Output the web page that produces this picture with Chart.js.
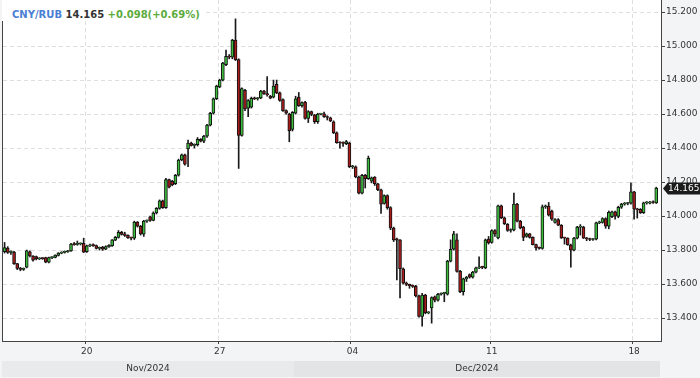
<!DOCTYPE html>
<html>
<head>
<meta charset="utf-8">
<script src="https://cdn.jsdelivr.net/npm/chart.js@4.4.1/dist/chart.umd.min.js"></script>
<style>
  html, body { margin: 0; padding: 0; background: #f3f4f6; }
  #wrap { position: relative; width: 700px; height: 378px; }
  #head {
    position: absolute; left: 2px; top: 0;
    padding: 9px 4px 0 10px; height: 12px; line-height: 12px;
    background: #fff; white-space: nowrap;
    font: bold 10px 'DejaVu Sans', sans-serif;
  }
  #head .sym { color: #4a7fd4; }
  #head .px { color: #333; }
  #head .chg { color: #5cab3c; }
</style>
</head>
<body>
<div id="wrap">
  <canvas id="candles" width="700" height="378"></canvas>
  <div id="head"><span class="sym" id="sym"></span> <span class="px" id="px"></span> <span class="chg" id="chg"></span></div>
</div>
<script>
// 4h candles, CNY/RUB, mid Nov - 19 Dec 2024
var opens = [
  13.790, 13.812, 13.786, 13.788, 13.720, 13.692, 13.686, 13.700, 13.790, 13.765,
  13.762, 13.748, 13.752, 13.755, 13.728, 13.755, 13.757, 13.768, 13.782, 13.786,
  13.790, 13.795, 13.835, 13.833, 13.836, 13.840, 13.790, 13.825, 13.830, 13.826,
  13.810, 13.818, 13.805, 13.820, 13.826, 13.858, 13.875, 13.905, 13.895, 13.886,
  13.872, 13.870, 13.965, 13.940, 13.893, 13.970, 13.995, 13.975, 14.018, 14.045,
  14.090, 14.050, 14.215, 14.205, 14.190, 14.240, 14.330, 14.360, 14.395, 14.430,
  14.416, 14.420, 14.452, 14.440, 14.470, 14.535, 14.605, 14.690, 14.760, 14.800,
  14.890, 14.940, 14.935, 15.035, 14.920, 14.475, 14.740, 14.635, 14.640, 14.692,
  14.690, 14.695, 14.735, 14.720, 14.705, 14.700, 14.775, 14.725, 14.685, 14.620,
  14.600, 14.510, 14.605, 14.700, 14.650, 14.670, 14.575, 14.615, 14.595, 14.555,
  14.600, 14.602, 14.585, 14.578, 14.555, 14.490, 14.432, 14.430, 14.426, 14.430,
  14.290, 14.290, 14.230, 14.135, 14.240, 14.220, 14.205, 14.230, 14.190, 14.155,
  14.075, 14.120, 14.050, 13.930, 13.866, 13.860, 13.690, 13.605, 13.598, 13.590,
  13.586, 13.530, 13.410, 13.535, 13.430, 13.460, 13.525, 13.505, 13.540, 13.545,
  13.540, 13.735, 13.805, 13.860, 13.675, 13.555, 13.630, 13.655, 13.640, 13.670,
  13.695, 13.700, 13.695, 13.865, 13.845, 13.915, 13.872, 14.060, 13.990, 13.952,
  13.915, 13.918, 14.070, 13.970, 13.935, 13.880, 13.895, 13.875, 13.832, 13.812,
  13.810, 14.055, 14.058, 14.030, 13.962, 13.980, 13.946, 13.872, 13.870, 13.830,
  13.800, 13.870, 13.935, 13.935, 13.870, 13.866, 13.862, 13.864, 13.960, 13.962,
  13.985, 13.940, 13.996, 14.025, 13.998, 14.052, 14.070, 14.074, 14.076, 14.142,
  14.040, 14.040, 14.020, 14.078, 14.076, 14.082, 14.078
];
var highs = [
  13.845, 13.820, 13.795, 13.792, 13.722, 13.698, 13.695, 13.800, 13.795, 13.768,
  13.765, 13.755, 13.756, 13.758, 13.758, 13.760, 13.772, 13.785, 13.790, 13.795,
  13.798, 13.840, 13.845, 13.853, 13.842, 13.870, 13.830, 13.835, 13.836, 13.830,
  13.818, 13.822, 13.825, 13.832, 13.862, 13.880, 13.915, 13.910, 13.905, 13.890,
  13.876, 13.970, 13.968, 13.945, 13.975, 13.978, 14.000, 14.025, 14.050, 14.095,
  14.094, 14.222, 14.218, 14.210, 14.245, 14.335, 14.365, 14.365, 14.447, 14.435,
  14.425, 14.462, 14.456, 14.475, 14.540, 14.610, 14.695, 14.770, 14.805, 14.905,
  14.976, 14.950, 15.040, 15.160, 14.925, 14.755, 14.745, 14.685, 14.700, 14.700,
  14.698, 14.740, 14.740, 14.820, 14.710, 14.800, 14.800, 14.730, 14.690, 14.625,
  14.605, 14.615, 14.705, 14.727, 14.672, 14.675, 14.620, 14.618, 14.598, 14.605,
  14.605, 14.612, 14.590, 14.582, 14.560, 14.495, 14.438, 14.436, 14.445, 14.435,
  14.298, 14.295, 14.235, 14.245, 14.245, 14.353, 14.230, 14.232, 14.192, 14.158,
  14.125, 14.125, 14.055, 13.935, 13.870, 13.862, 13.695, 13.612, 13.600, 13.595,
  13.592, 13.535, 13.545, 13.540, 13.438, 13.525, 13.530, 13.545, 13.548, 13.552,
  13.740, 13.860, 13.910, 13.895, 13.680, 13.635, 13.645, 13.660, 13.675, 13.700,
  13.760, 13.705, 13.865, 13.880, 13.920, 13.920, 14.065, 14.065, 13.995, 13.956,
  13.925, 14.135, 14.075, 13.975, 13.940, 13.900, 13.898, 13.878, 13.835, 13.818,
  14.065, 14.065, 14.080, 14.035, 13.985, 13.985, 13.950, 13.876, 13.872, 13.835,
  13.875, 13.940, 13.950, 13.940, 13.875, 13.870, 13.868, 13.965, 13.970, 13.990,
  13.990, 14.030, 14.030, 14.030, 14.058, 14.075, 14.080, 14.080, 14.196, 14.146,
  14.046, 14.044, 14.082, 14.085, 14.086, 14.090, 14.170
];
var lows = [
  13.782, 13.780, 13.775, 13.715, 13.685, 13.678, 13.680, 13.695, 13.760, 13.735,
  13.742, 13.744, 13.745, 13.725, 13.725, 13.750, 13.754, 13.765, 13.778, 13.782,
  13.786, 13.792, 13.828, 13.828, 13.830, 13.785, 13.786, 13.820, 13.822, 13.806,
  13.800, 13.798, 13.802, 13.815, 13.822, 13.855, 13.870, 13.888, 13.880, 13.868,
  13.860, 13.862, 13.935, 13.888, 13.880, 13.962, 13.968, 13.972, 14.012, 14.040,
  14.045, 14.045, 14.165, 14.178, 14.185, 14.235, 14.325, 14.300, 14.290, 14.412,
  14.400, 14.412, 14.436, 14.432, 14.462, 14.530, 14.600, 14.685, 14.755, 14.795,
  14.885, 14.925, 14.925, 14.915, 14.280, 14.470, 14.620, 14.585, 14.635, 14.685,
  14.682, 14.690, 14.715, 14.705, 14.690, 14.695, 14.720, 14.675, 14.615, 14.600,
  14.437, 14.500, 14.600, 14.645, 14.640, 14.570, 14.550, 14.590, 14.545, 14.545,
  14.595, 14.580, 14.565, 14.555, 14.485, 14.428, 14.400, 14.410, 14.420, 14.285,
  14.280, 14.225, 14.130, 14.130, 14.165, 14.215, 14.195, 14.180, 14.150, 14.016,
  14.070, 14.040, 13.920, 13.850, 13.625, 13.518, 13.600, 13.590, 13.575, 13.580,
  13.525, 13.405, 13.352, 13.425, 13.425, 13.370, 13.495, 13.500, 13.535, 13.496,
  13.535, 13.730, 13.800, 13.670, 13.550, 13.535, 13.615, 13.635, 13.635, 13.665,
  13.690, 13.690, 13.690, 13.835, 13.840, 13.880, 13.865, 13.985, 13.950, 13.910,
  13.905, 13.912, 13.965, 13.925, 13.855, 13.875, 13.870, 13.830, 13.800, 13.805,
  13.805, 14.045, 14.000, 13.975, 13.958, 13.943, 13.868, 13.835, 13.828, 13.700,
  13.795, 13.865, 13.888, 13.868, 13.855, 13.855, 13.856, 13.860, 13.955, 13.958,
  13.928, 13.925, 13.990, 13.982, 13.990, 14.045, 14.064, 14.066, 14.070, 13.982,
  13.988, 14.015, 14.015, 14.070, 14.072, 14.074, 14.074
];
var closes = [
  13.815, 13.786, 13.790, 13.720, 13.692, 13.686, 13.690, 13.795, 13.765, 13.740,
  13.748, 13.752, 13.750, 13.728, 13.755, 13.757, 13.770, 13.782, 13.786, 13.792,
  13.794, 13.835, 13.832, 13.836, 13.838, 13.788, 13.825, 13.830, 13.826, 13.810,
  13.814, 13.805, 13.820, 13.828, 13.860, 13.875, 13.905, 13.892, 13.886, 13.872,
  13.870, 13.965, 13.940, 13.895, 13.970, 13.972, 13.975, 14.018, 14.045, 14.090,
  14.050, 14.215, 14.170, 14.183, 14.240, 14.330, 14.360, 14.305, 14.430, 14.416,
  14.420, 14.452, 14.440, 14.470, 14.535, 14.605, 14.690, 14.765, 14.800, 14.900,
  14.940, 14.935, 15.035, 14.920, 14.475, 14.750, 14.630, 14.680, 14.692, 14.690,
  14.693, 14.735, 14.720, 14.712, 14.694, 14.765, 14.725, 14.680, 14.620, 14.605,
  14.502, 14.610, 14.690, 14.650, 14.668, 14.575, 14.615, 14.598, 14.555, 14.600,
  14.602, 14.585, 14.580, 14.560, 14.490, 14.432, 14.430, 14.428, 14.438, 14.290,
  14.292, 14.230, 14.135, 14.240, 14.220, 14.340, 14.225, 14.190, 14.155, 14.070,
  14.120, 14.050, 13.930, 13.860, 13.858, 13.690, 13.605, 13.598, 13.590, 13.586,
  13.530, 13.410, 13.535, 13.430, 13.432, 13.520, 13.505, 13.540, 13.545, 13.550,
  13.735, 13.805, 13.895, 13.675, 13.555, 13.630, 13.640, 13.640, 13.670, 13.695,
  13.700, 13.698, 13.860, 13.842, 13.915, 13.895, 14.060, 13.990, 13.955, 13.915,
  13.920, 14.070, 13.970, 13.930, 13.875, 13.895, 13.875, 13.832, 13.812, 13.810,
  14.055, 14.058, 14.005, 13.982, 13.980, 13.946, 13.872, 13.870, 13.832, 13.800,
  13.870, 13.935, 13.938, 13.870, 13.866, 13.862, 13.864, 13.960, 13.966, 13.985,
  13.940, 14.022, 14.025, 14.000, 14.052, 14.070, 14.074, 14.076, 14.142, 14.040,
  14.036, 14.020, 14.078, 14.080, 14.082, 14.080, 14.165
];

// candle index where each labelled day / month starts
var dayLabels = ['20', '27', '04', '11', '18'];
var dayStart = [26, 68, 110, 154, 199];
var monthLabels = ['Nov/2024', 'Dec/2024'];
var monthStart = [0, 92];

var priceTicks = [13.4, 13.6, 13.8, 14.0, 14.2, 14.4, 14.6, 14.8, 15.0, 15.2];
var yMin = 13.265;
var yMax = 15.271;

var symbol = 'CNY/RUB';
var lastPrice = 14.165;
var change = 0.098;
var changePct = 0.69;

var upColor = '#3dbb3d';
var downColor = '#a81c1c';
var gridColor = '#dedede';
var axisColor = '#444';
var textColor = '#333';
var monthFill = ['#e9eaeb', '#e3e4e6'];
var tickFont = { family: 'DejaVu Sans', size: 9 };

document.getElementById('sym').textContent = symbol;
document.getElementById('px').textContent = lastPrice.toFixed(3);
document.getElementById('chg').textContent = '+' + change.toFixed(3) + '(+' + changePct.toFixed(2) + '%)';

var slots = opens.map(function (_, i) { return String(i); });
slots.push('');

var frame = {
  id: 'frame',
  beforeDraw: function (chart) {
    var a = chart.chartArea;
    var c = chart.ctx;
    c.save();
    c.fillStyle = '#fff';
    c.fillRect(a.left, a.top, a.right - a.left, a.bottom - a.top);
    c.restore();
  },
  afterDraw: function (chart) {
    var a = chart.chartArea;
    var c = chart.ctx;
    var xs = chart.scales.x;
    var ys = chart.scales.y;
    var half = (xs.getPixelForValue(1) - xs.getPixelForValue(0)) / 2;

    c.save();
    c.strokeStyle = axisColor;
    c.lineWidth = 1;
    c.beginPath();
    c.moveTo(a.left - 0.5, a.top);
    c.lineTo(a.left - 0.5, a.bottom + 1);
    c.stroke();

    // month band under the day labels
    c.font = '9px "DejaVu Sans"';
    c.textAlign = 'center';
    c.textBaseline = 'middle';
    var top = xs.bottom - 17;
    for (var k = 0; k < monthLabels.length; k++) {
      var x0 = k === 0 ? a.left - 1 : xs.getPixelForValue(monthStart[k]) - half;
      var x1 = k === monthLabels.length - 1 ? a.right - 1 : xs.getPixelForValue(monthStart[k + 1]) - half;
      c.fillStyle = monthFill[k];
      c.fillRect(x0, top, x1 - x0, 16);
      c.fillStyle = textColor;
      c.fillText(monthLabels[k], (x0 + x1) / 2, top + 8);
    }

    // last price tag
    var y = Math.round(ys.getPixelForValue(closes[closes.length - 1])) + 0.5;
    c.fillStyle = '#1b1b1b';
    c.beginPath();
    c.moveTo(a.right + 2, y);
    c.lineTo(a.right + 7, y - 6);
    c.lineTo(chart.width, y - 6);
    c.lineTo(chart.width, y + 6);
    c.lineTo(a.right + 7, y + 6);
    c.closePath();
    c.fill();
    c.fillStyle = '#fff';
    c.textAlign = 'left';
    c.fillText(lastPrice.toFixed(3), a.right + 7, y + 0.5);
    c.restore();
  }
};

var ctx = document.getElementById('candles').getContext('2d');
var chart = new Chart(ctx, {
  type: 'bar',
  data: {
    labels: slots,
    datasets: [{
      label: 'body',
      data: opens.map(function (o, i) { return [o, closes[i]]; }),
      backgroundColor: opens.map(function (o, i) { return closes[i] >= o ? upColor : downColor; }),
      borderColor: '#111',
      borderWidth: 1,
      borderSkipped: false,
      barThickness: 3,
      minBarLength: 1,
      grouped: false,
      order: 0
    }, {
      label: 'wick',
      data: lows.map(function (l, i) { return [l, highs[i]]; }),
      backgroundColor: '#1a1a1a',
      borderWidth: 0,
      barThickness: 1,
      grouped: false,
      order: 1
    }]
  },
  options: {
    responsive: false,
    devicePixelRatio: 1,
    animation: false,
    layout: { padding: { left: 3, right: 0, top: 0, bottom: 0 } },
    plugins: {
      legend: { display: false },
      tooltip: { enabled: false }
    },
    scales: {
      x: {
        type: 'category',
        offset: true,
        grid: {
          offset: true,
          color: function (c) { return dayStart.indexOf(c.index) >= 0 ? gridColor : 'rgba(0,0,0,0)'; },
          tickColor: function (c) { return dayStart.indexOf(c.index) >= 0 ? axisColor : 'rgba(0,0,0,0)'; },
          tickLength: 3,
          tickBorderDash: []
        },
        border: { color: axisColor, dash: [4, 3] },
        ticks: {
          autoSkip: false,
          maxRotation: 0,
          padding: 2,
          color: textColor,
          font: tickFont,
          callback: function (v, i) {
            var k = dayStart.indexOf(i);
            return k < 0 ? '' : dayLabels[k];
          }
        },
        afterFit: function (s) {
          s.height = 37;
          s.paddingLeft = 0;
          s.paddingRight = 0;
        }
      },
      y: {
        position: 'right',
        min: yMin,
        max: yMax,
        afterBuildTicks: function (s) {
          s.ticks = priceTicks.map(function (v) { return { value: v }; });
        },
        grid: {
          color: gridColor,
          tickColor: axisColor,
          tickLength: 4,
          tickBorderDash: []
        },
        border: { color: axisColor, dash: [4, 3] },
        ticks: {
          padding: 1,
          color: textColor,
          font: tickFont,
          callback: function (v) { return Number(v).toFixed(3); }
        },
        afterFit: function (s) {
          s.width = 39;
          s.paddingTop = 0;
          s.paddingBottom = 0;
        }
      }
    }
  },
  plugins: [frame]
});
</script>
</body>
</html>
